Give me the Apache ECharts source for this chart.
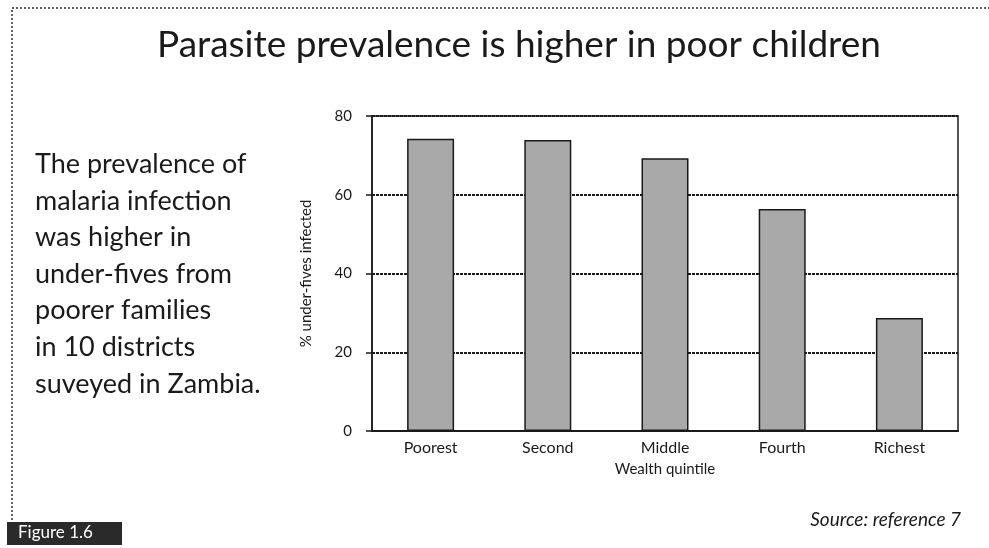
<!DOCTYPE html>
<html>
<head>
<meta charset="utf-8">
<script src="https://cdn.jsdelivr.net/npm/echarts@6/dist/echarts.min.js"></script>
<style>
  html, body { margin: 0; padding: 0; background: #fff; }
  #chart { width: 989px; height: 548px; }
</style>
</head>
<body>
<div id="chart"></div>
<script>
// Wealth quintiles and % of under-fives infected
const quintiles = ['Poorest', 'Second', 'Middle', 'Fourth', 'Richest'];
const infected = [74.2, 73.9, 69.3, 56.4, 28.7];
const yTicks = [0, 20, 40, 60, 80];

const sideText = [
    'The prevalence of',
    'malaria infection',
    'was higher in',
    'under-fives from',
    'poorer families',
    'in 10 districts',
    'suveyed in Zambia.'
];

const chart = echarts.init(document.getElementById('chart'));

const ink = '#1a1a1a';
const font = 'Lato, "Open Sans", sans-serif';

const option = {
    backgroundColor: '#fff',
    animation: false,
    title: {
        text: 'Parasite prevalence is higher in poor children',
        left: 152,
        top: 22,
        textStyle: {
            fontFamily: font,
            fontSize: 37,
            fontWeight: 'normal',
            color: ink
        }
    },
    grid: {
        left: 372,
        right: 31,
        top: 116,
        bottom: 117,
        show: true,
        borderColor: ink,
        borderWidth: 1.5,
        backgroundColor: 'transparent'
    },
    xAxis: {
        type: 'category',
        data: quintiles,
        name: 'Wealth quintile',
        nameLocation: 'middle',
        nameGap: 31,
        nameTextStyle: { fontFamily: font, fontSize: 15, color: ink },
        axisLine: { lineStyle: { color: ink, width: 2 } },
        axisTick: { show: false },
        axisLabel: { fontFamily: font, fontSize: 16, color: ink, margin: 9 }
    },
    yAxis: {
        type: 'value',
        min: yTicks[0],
        max: yTicks[yTicks.length - 1],
        interval: 20,
        name: '% under-fives infected',
        nameLocation: 'middle',
        nameGap: 58,
        nameTextStyle: { fontFamily: font, fontSize: 15, color: ink },
        axisLine: { show: true, lineStyle: { color: ink, width: 1.5 } },
        axisTick: { show: true, inside: false, length: 6, lineStyle: { color: ink, width: 1.5 } },
        axisLabel: { fontFamily: font, fontSize: 15, color: ink, margin: 20 },
        splitLine: { show: true, lineStyle: { color: ink, width: 2, type: [3, 1] } }
    },
    series: [
        {
            type: 'bar',
            data: infected,
            barWidth: 47,
            itemStyle: {
                color: '#a9a9a9',
                borderColor: ink,
                borderWidth: 1.5
            }
        }
    ],
    graphic: [
        // dotted frame around the figure
        {
            type: 'polyline',
            shape: { points: [[12, 520], [12, 8], [989, 8]] },
            style: { stroke: '#333', lineWidth: 1.5, lineDash: [2, 2], fill: null }
        },
        {
            type: 'text',
            left: 35,
            top: 146,
            style: {
                text: sideText.join('\n'),
                fontFamily: font,
                fontSize: 27,
                lineHeight: 36.6,
                fill: ink
            }
        },
        {
            type: 'rect',
            shape: { x: 7, y: 522, width: 115, height: 23 },
            style: { fill: '#2a2a2a' }
        },
        {
            type: 'text',
            left: 18,
            top: 524,
            style: {
                text: 'Figure 1.6',
                fontFamily: font,
                fontSize: 17,
                fill: '#fff'
            }
        },
        {
            type: 'text',
            right: 28,
            top: 510,
            style: {
                text: 'Source: reference 7',
                fontFamily: font,
                fontSize: 19,
                fontStyle: 'italic',
                fill: ink
            }
        }
    ]
};

chart.setOption(option);
</script>
</body>
</html>
